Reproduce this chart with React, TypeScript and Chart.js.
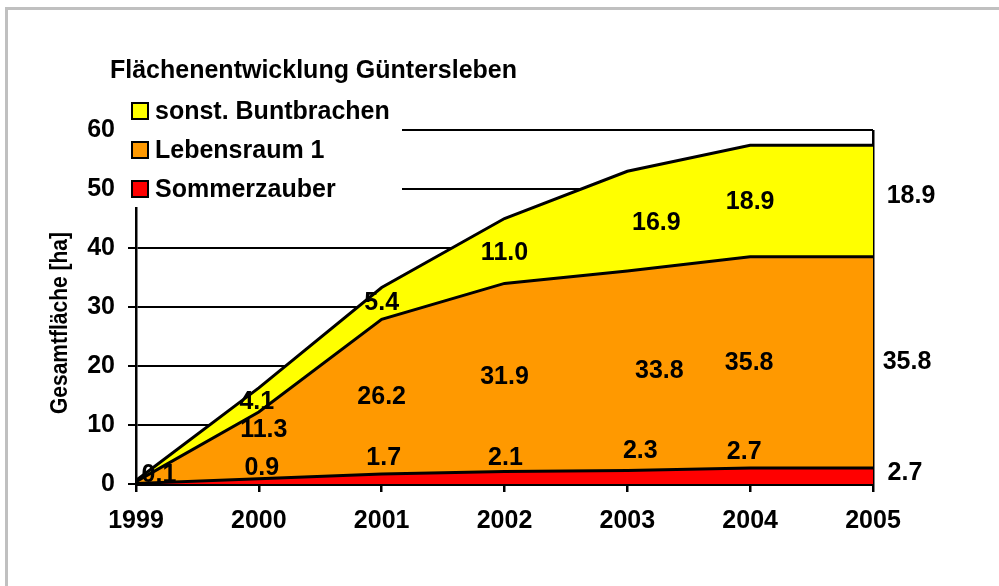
import React, { useEffect, useRef } from "react";
import { Chart, registerables } from "chart.js";

Chart.register(...registerables);

const years = ["1999", "2000", "2001", "2002", "2003", "2004", "2005"];
const sommerzauber = [0.1, 0.9, 1.7, 2.1, 2.3, 2.7, 2.7];
const lebensraum = [0.3, 11.3, 26.2, 31.9, 33.8, 35.8, 35.8];
const buntbrachen = [0.2, 4.1, 5.4, 11.0, 16.9, 18.9, 18.9];
const seriesNames = ["Sommerzauber", "Lebensraum 1", "sonst. Buntbrachen"];
const seriesColors = ["#ff0000", "#ff9900", "#ffff00"];
const yTicks = [0, 10, 20, 30, 40, 50, 60];
const chartTitle = "Flächenentwicklung Güntersleben";
const yTitle = "Gesamtfläche [ha]";

// label display flags and offsets (style only)
const showLabel = [
  [true, true, true, true, true, true, true],
  [false, true, true, true, true, true, true],
  [false, true, true, true, true, true, true],
];
const labelDx = [
  [23, 3, 2, 1, 13, -6, 32],
  [0, 5, 0, 0, 32, -1, 34],
  [0, -2, 0, 0, 29, 0, 38],
];
const labelDy = [
  [-9, -13, -21, -20, -26, -24, -3],
  [0, -15, 0, 0, 0, 1, 0],
  [0, 2, 0, 2, 2, 1, -5],
];

const FONT = "'Liberation Sans', Arial, sans-serif";
const FS = 25;
const FS_YTITLE = 21;

export default function App() {
  const ref = useRef<HTMLCanvasElement | null>(null);
  useEffect(() => {
    if (!ref.current) return;
    const seriesData = [sommerzauber, lebensraum, buntbrachen];

    const decor = {
      id: "decor",
      afterDatasetsDraw(chart: any) {
        const ctx = chart.ctx;
        const x = chart.scales.x;
        const y = chart.scales.y;
        ctx.save();
        ctx.font = `bold ${FS}px ${FONT}`;
        ctx.fillStyle = "#000";
        ctx.textAlign = "center";
        ctx.textBaseline = "middle";
        for (let d = 0; d < seriesData.length; d++) {
          for (let i = 0; i < years.length; i++) {
            if (!showLabel[d][i]) continue;
            let base = 0;
            for (let k = 0; k < d; k++) base += seriesData[k][i];
            const v = seriesData[d][i];
            const px = x.getPixelForValue(i) + labelDx[d][i];
            const py = y.getPixelForValue(base + v / 2) + labelDy[d][i];
            ctx.fillText(v.toFixed(1), px, py);
          }
        }
        ctx.restore();
      },
      afterDraw(chart: any) {
        const ctx = chart.ctx;
        ctx.save();
        // legend box (white background)
        ctx.fillStyle = "#fff";
        ctx.fillRect(124, 92, 278, 115);
        const rows = [2, 1, 0];
        rows.forEach((d, r) => {
          const cy = 111 + r * 39;
          ctx.fillStyle = seriesColors[d];
          ctx.fillRect(132, cy - 8, 16, 16);
          ctx.strokeStyle = "#000";
          ctx.lineWidth = 2;
          ctx.strokeRect(132, cy - 8, 16, 16);
          ctx.fillStyle = "#000";
          ctx.font = `bold ${FS}px ${FONT}`;
          ctx.textAlign = "left";
          ctx.textBaseline = "middle";
          ctx.fillText(seriesNames[d], 155, cy + 1);
        });
        // title
        ctx.font = `bold ${FS}px ${FONT}`;
        ctx.textAlign = "left";
        ctx.textBaseline = "middle";
        ctx.fillText(chartTitle, 110, 71);
        // y axis title
        ctx.font = `bold ${FS_YTITLE}px ${FONT}`;
        ctx.translate(61, 323);
        ctx.rotate(-Math.PI / 2);
        ctx.scale(1, 1.1);
        ctx.textAlign = "center";
        ctx.fillText(yTitle, 0, 0);
        ctx.restore();
        // outer border
        ctx.save();
        ctx.strokeStyle = "#c0c0c0";
        ctx.lineWidth = 3;
        ctx.strokeRect(6.5, 8.5, 1200, 800);
        ctx.restore();
      },
    };

    const chart = new Chart(ref.current, {
      type: "line",
      data: {
        labels: years,
        datasets: seriesData.map((arr, d) => ({
          label: seriesNames[d],
          data: arr,
          backgroundColor: seriesColors[d],
          borderColor: "#000",
          borderWidth: 3,
          pointRadius: 0,
          tension: 0,
          fill: d === 0 ? "origin" : "-1",
        })),
      },
      options: {
        animation: false,
        responsive: false,
        events: [],
        layout: { padding: { left: 0, top: 130, right: 126, bottom: 0 } },
        plugins: {
          legend: { display: false },
          title: { display: false },
          tooltip: { enabled: false },
        },
        scales: {
          x: {
            type: "category",
            offset: false,
            afterFit: (s: any) => {
              s.height = 102;
            },
            grid: {
              color: (c: any) => (c.index === years.length - 1 ? "#000" : "rgba(0,0,0,0)"),
              lineWidth: 2.5,
              tickColor: "#000",
              tickLength: 8,
              drawTicks: true,
            },
            border: { display: true, color: "#000", width: 3 },
            ticks: {
              color: "#000",
              font: { family: FONT, size: FS, weight: "bold" },
              padding: 14,
              maxRotation: 0,
              autoSkip: false,
            },
          },
          y: {
            stacked: true,
            min: 0,
            max: 60,
            afterFit: (s: any) => {
              s.width = 136;
            },
            afterBuildTicks: (s: any) => {
              s.ticks = yTicks.map((v) => ({ value: v }));
            },
            grid: {
              color: "#000",
              lineWidth: 2,
              tickColor: "#000",
              tickLength: 8,
            },
            border: { display: true, color: "#000", width: 2.5 },
            ticks: {
              color: "#000",
              font: { family: FONT, size: FS, weight: "bold" },
              padding: 13,
              stepSize: 10,
            },
          },
        },
      },
      plugins: [decor],
    });
    return () => chart.destroy();
  }, []);

  return (
    <div style={{ position: "fixed", left: 0, top: 0, width: 999, height: 586, background: "#fff" }}>
      <canvas ref={ref} width={999} height={586} style={{ display: "block", width: 999, height: 586 }} />
    </div>
  );
}
